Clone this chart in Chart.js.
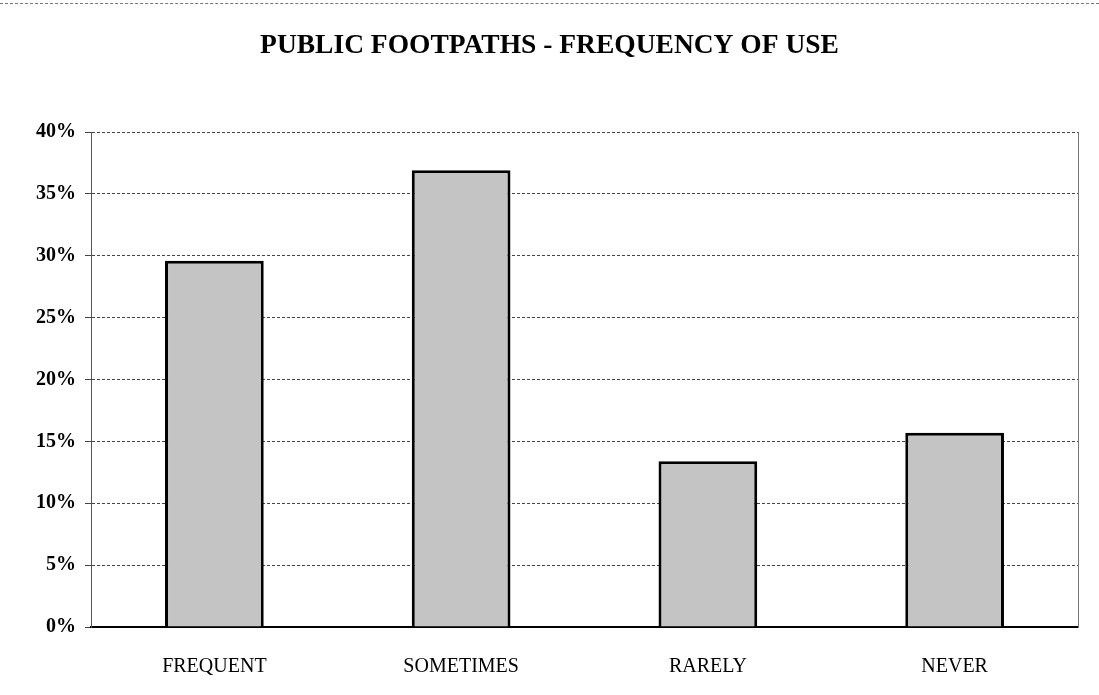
<!DOCTYPE html>
<html>
<head>
<meta charset="utf-8">
<script src="https://cdn.jsdelivr.net/npm/chart.js@4/dist/chart.umd.min.js"></script>
<style>
  html, body { margin: 0; padding: 0; background: #fff; }
  body { width: 1099px; height: 695px; overflow: hidden; }
  #wrap { position: relative; width: 1099px; height: 695px; padding-top: 3px; box-sizing: border-box; }
  #wrap:before { content: ''; position: absolute; left: 0; right: 0; top: 3px; border-top: 1px dashed #777; }
</style>
</head>
<body>
<div id="wrap"><canvas id="footpathChart" width="1099" height="692"></canvas></div>
<script>
// Survey answers (percent of respondents)
const categories = ['FREQUENT', 'SOMETIMES', 'RARELY', 'NEVER'];
const usePercent = [29.6, 36.9, 13.4, 15.7];
const yTicks = [0, 5, 10, 15, 20, 25, 30, 35, 40];

const serif = '"Liberation Serif", "Times New Roman", serif';

const ctx = document.getElementById('footpathChart').getContext('2d');
const footpathChart = new Chart(ctx, {
  type: 'bar',
  data: {
    labels: categories,
    datasets: [{
      data: usePercent,
      backgroundColor: '#c4c4c4',
      borderColor: '#000',
      borderWidth: 3,
      barPercentage: 0.4,
      categoryPercentage: 1
    }]
  },
  options: {
    responsive: false,
    animation: false,
    layout: { padding: 0 },
    plugins: {
      legend: { display: false },
      tooltip: { enabled: false },
      title: {
        display: true,
        text: 'PUBLIC FOOTPATHS - FREQUENCY OF USE',
        color: '#000',
        font: { family: serif, size: 27.5, weight: 'bold' },
        padding: { top: 26, bottom: 70 }
      }
    },
    scales: {
      x: {
        grid: { display: false },
        border: { color: '#000', width: 2 },
        ticks: {
          color: '#000',
          padding: 20,
          font: { family: serif, size: 20 }
        },
        afterFit(scale) { scale.height = 68; }
      },
      y: {
        min: 0,
        max: 40,
        afterBuildTicks(scale) { scale.ticks = yTicks.map(v => ({ value: v })); },
        grid: {
          color: '#444',
          lineWidth: 1,
          tickLength: 6,
          tickColor: '#444'
        },
        border: { color: '#555', width: 1, dash: [3, 2] },
        ticks: {
          color: '#000',
          padding: 9,
          font: { family: serif, size: 20, weight: 'bold' },
          callback: v => v + '%'
        },
        afterFit(scale) { scale.width = 91; }
      },
      // right frame edge only, no labels
      yRight: {
        position: 'right',
        min: 0,
        max: 40,
        grid: { display: false },
        border: { color: '#777', width: 1, dash: [2, 3] },
        ticks: { display: false },
        afterFit(scale) { scale.width = 21; }
      }
    }
  }
});
// dashed gridlines like the printed original
footpathChart.options.scales.y.grid.dash = [9, 4];
footpathChart.update();
</script>
</body>
</html>
